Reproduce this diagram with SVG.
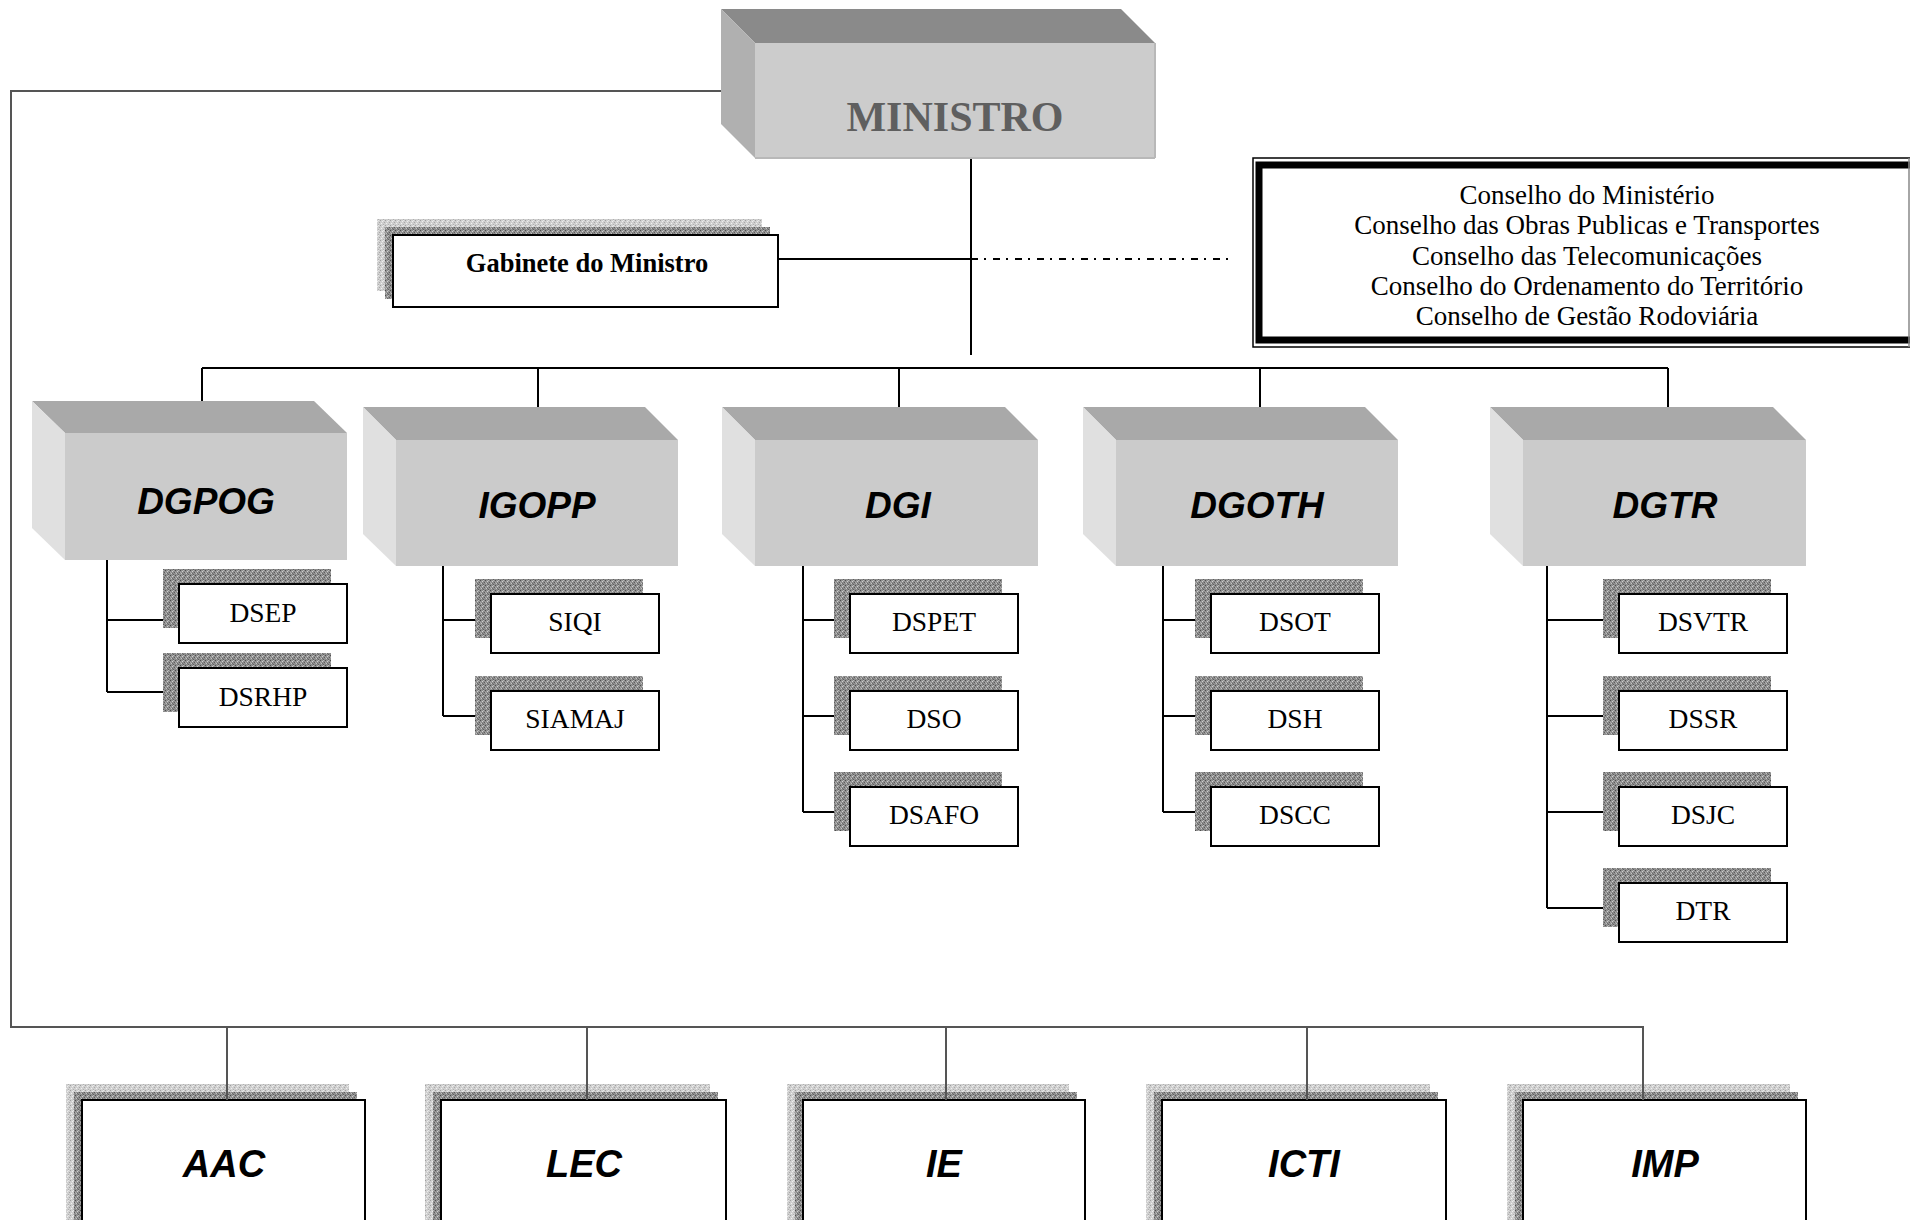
<svg xmlns="http://www.w3.org/2000/svg" width="1910" height="1220" viewBox="0 0 1910 1220">
<defs>
<pattern id="stipD" width="5" height="5" patternUnits="userSpaceOnUse">
<rect width="5" height="5" fill="#8e8e8e"/>
<rect x="0" y="0" width="1" height="1" fill="#4e4e4e"/>
<rect x="2" y="1" width="1" height="1" fill="#d0d0d0"/>
<rect x="4" y="2" width="1" height="1" fill="#5c5c5c"/>
<rect x="1" y="3" width="1" height="1" fill="#c4c4c4"/>
<rect x="3" y="4" width="1" height="1" fill="#606060"/>
<rect x="3" y="0" width="1" height="1" fill="#b8b8b8"/>
<rect x="0" y="2" width="1" height="1" fill="#a8a8a8"/>
<rect x="2" y="3" width="1" height="1" fill="#6a6a6a"/>
</pattern>
<pattern id="stipL" width="5" height="5" patternUnits="userSpaceOnUse">
<rect width="5" height="5" fill="#cfcfcf"/>
<rect x="0" y="0" width="1" height="1" fill="#a0a0a0"/>
<rect x="2" y="1" width="1" height="1" fill="#eeeeee"/>
<rect x="4" y="2" width="1" height="1" fill="#a8a8a8"/>
<rect x="1" y="3" width="1" height="1" fill="#f0f0f0"/>
<rect x="3" y="4" width="1" height="1" fill="#b0b0b0"/>
<rect x="3" y="0" width="1" height="1" fill="#e6e6e6"/>
</pattern>
<style>
.box{fill:#fff;stroke:#000;stroke-width:2}
.shD{fill:url(#stipD)}
.shL{fill:url(#stipL)}
.ln{stroke:#000;stroke-width:2;fill:none}
.lng{stroke:#555;stroke-width:2;fill:none}
.top{fill:#a9a9a9}
.side{fill:#e0e0e0}
.front{fill:#cbcbcb}
.dg{font-family:"Liberation Sans",Arial,sans-serif;font-weight:bold;font-style:italic;font-size:37px;text-anchor:middle;fill:#000}
.bt{font-family:"Liberation Sans",Arial,sans-serif;font-weight:bold;font-style:italic;font-size:38px;text-anchor:middle;fill:#000}
.sub{font-family:"Liberation Serif","Times New Roman",serif;font-size:27.5px;text-anchor:middle;fill:#000}
.cons{font-family:"Liberation Serif","Times New Roman",serif;font-size:27px;text-anchor:middle;fill:#000}
</style>
</defs>
<rect width="1910" height="1220" fill="#fff"/>

<g id="connectors">
<path class="lng" d="M732,91 H11 V1027 H1643 V1100"/>
<path class="lng" d="M227,1027 V1100 M587,1027 V1100 M946,1027 V1100 M1307,1027 V1100"/>
<path class="ln" d="M971,158 V355"/>
<path class="ln" d="M778,259 H971"/>
<path d="M971,259 H1229" stroke="#000" stroke-width="2" stroke-dasharray="7 6 2 7" fill="none"/>
<path class="ln" d="M202,368 H1668 M202,368 V428 M538,368 V430 M899,368 V440 M1260,368 V440 M1668,368 V407"/>
<path class="ln" d="M107,560 V692 M107,620 H179 M107,692 H179"/>
<path class="ln" d="M443,566 V716 M443,620 H491 M443,716 H491"/>
<path class="ln" d="M803,560 V812 M803,620 H850 M803,716 H850 M803,812 H850"/>
<path class="ln" d="M1163,566 V812 M1163,620 H1211 M1163,716 H1211 M1163,812 H1211"/>
<path class="ln" d="M1547,566 V908 M1547,620 H1619 M1547,716 H1619 M1547,812 H1619 M1547,908 H1619"/>
</g>

<g id="ministro">
<polygon points="721,9 1121,9 1155,43 755,43" fill="#8a8a8a"/>
<polygon points="721,9 755,43 755,158 721,124" fill="#b0b0b0"/>
<rect x="755" y="43" width="400" height="115" fill="#cccccc"/>
<path d="M1155,43 V158 M755,158 H1155" stroke="#b8b8b8" stroke-width="2"/>
<text x="955" y="131" font-family="'Liberation Serif','Times New Roman',serif" font-weight="bold" font-size="42" text-anchor="middle" fill="#5f5f5f">MINISTRO</text>
</g>

<g id="gabinete">
<rect class="shL" x="377" y="219" width="385" height="72"/>
<rect class="shD" x="385" y="227" width="385" height="72"/>
<rect class="box" x="393" y="235" width="385" height="72"/>
<text x="587" y="272" font-family="'Liberation Serif','Times New Roman',serif" font-weight="bold" font-size="26.5" text-anchor="middle">Gabinete do Ministro</text>
</g>

<g id="conselhos">
<rect x="1253" y="158" width="670" height="189" fill="#fff" stroke="#000" stroke-width="1.5"/>
<rect x="1259" y="165" width="670" height="175" fill="none" stroke="#000" stroke-width="7"/>
<line x1="1909" y1="158" x2="1909" y2="347" stroke="#888" stroke-width="1.5"/>
<text class="cons" x="1587" y="204">Conselho do Ministério</text>
<text class="cons" x="1587" y="234">Conselho das Obras Publicas e Transportes</text>
<text class="cons" x="1587" y="265">Conselho das Telecomunicações</text>
<text class="cons" x="1587" y="295">Conselho do Ordenamento do Território</text>
<text class="cons" x="1587" y="325">Conselho de Gestão Rodoviária</text>
</g>

<g id="dgpog">
<polygon class="top" points="32,401 314,401 347,433 65,433"/>
<polygon class="side" points="32,401 65,433 65,560 32,528"/>
<rect class="front" x="65" y="433" width="282" height="127"/>
<text class="dg" x="206" y="514">DGPOG</text>
</g>
<g id="igopp">
<polygon class="top" points="363,407 645,407 678,440 396,440"/>
<polygon class="side" points="363,407 396,440 396,566 363,534"/>
<rect class="front" x="396" y="440" width="282" height="126"/>
<text class="dg" x="537" y="518">IGOPP</text>
</g>
<g id="dgi">
<polygon class="top" points="722,407 1005,407 1038,440 755,440"/>
<polygon class="side" points="722,407 755,440 755,566 722,534"/>
<rect class="front" x="755" y="440" width="283" height="126"/>
<text class="dg" x="898" y="518">DGI</text>
</g>
<g id="dgoth">
<polygon class="top" points="1083,407 1365,407 1398,440 1116,440"/>
<polygon class="side" points="1083,407 1116,440 1116,566 1083,534"/>
<rect class="front" x="1116" y="440" width="282" height="126"/>
<text class="dg" x="1257" y="518">DGOTH</text>
</g>
<g id="dgtr">
<polygon class="top" points="1490,407 1773,407 1806,440 1523,440"/>
<polygon class="side" points="1490,407 1523,440 1523,566 1490,534"/>
<rect class="front" x="1523" y="440" width="283" height="126"/>
<text class="dg" x="1665" y="518">DGTR</text>
</g>

<g id="dsep"><rect class="shD" x="163" y="569" width="168" height="59"/><rect class="box" x="179" y="584" width="168" height="59"/><text class="sub" x="263" y="622">DSEP</text></g>
<g id="dsrhp"><rect class="shD" x="163" y="653" width="168" height="59"/><rect class="box" x="179" y="668" width="168" height="59"/><text class="sub" x="263" y="706">DSRHP</text></g>

<g id="siqi"><rect class="shD" x="475" y="579" width="168" height="59"/><rect class="box" x="491" y="594" width="168" height="59"/><text class="sub" x="575" y="631">SIQI</text></g>
<g id="siamaj"><rect class="shD" x="475" y="676" width="168" height="59"/><rect class="box" x="491" y="691" width="168" height="59"/><text class="sub" x="575" y="728">SIAMAJ</text></g>

<g id="dspet"><rect class="shD" x="834" y="579" width="168" height="59"/><rect class="box" x="850" y="594" width="168" height="59"/><text class="sub" x="934" y="631">DSPET</text></g>
<g id="dso"><rect class="shD" x="834" y="676" width="168" height="59"/><rect class="box" x="850" y="691" width="168" height="59"/><text class="sub" x="934" y="728">DSO</text></g>
<g id="dsafo"><rect class="shD" x="834" y="772" width="168" height="59"/><rect class="box" x="850" y="787" width="168" height="59"/><text class="sub" x="934" y="824">DSAFO</text></g>

<g id="dsot"><rect class="shD" x="1195" y="579" width="168" height="59"/><rect class="box" x="1211" y="594" width="168" height="59"/><text class="sub" x="1295" y="631">DSOT</text></g>
<g id="dsh"><rect class="shD" x="1195" y="676" width="168" height="59"/><rect class="box" x="1211" y="691" width="168" height="59"/><text class="sub" x="1295" y="728">DSH</text></g>
<g id="dscc"><rect class="shD" x="1195" y="772" width="168" height="59"/><rect class="box" x="1211" y="787" width="168" height="59"/><text class="sub" x="1295" y="824">DSCC</text></g>

<g id="dsvtr"><rect class="shD" x="1603" y="579" width="168" height="59"/><rect class="box" x="1619" y="594" width="168" height="59"/><text class="sub" x="1703" y="631">DSVTR</text></g>
<g id="dssr"><rect class="shD" x="1603" y="676" width="168" height="59"/><rect class="box" x="1619" y="691" width="168" height="59"/><text class="sub" x="1703" y="728">DSSR</text></g>
<g id="dsjc"><rect class="shD" x="1603" y="772" width="168" height="59"/><rect class="box" x="1619" y="787" width="168" height="59"/><text class="sub" x="1703" y="824">DSJC</text></g>
<g id="dtr"><rect class="shD" x="1603" y="868" width="168" height="59"/><rect class="box" x="1619" y="883" width="168" height="59"/><text class="sub" x="1703" y="920">DTR</text></g>

<g id="aac"><rect class="shL" x="66" y="1084" width="283" height="150"/><rect class="shD" x="74" y="1092" width="283" height="150"/><rect class="box" x="82" y="1100" width="283" height="150"/><text class="bt" x="224" y="1177">AAC</text></g>
<g id="lec"><rect class="shL" x="425" y="1084" width="285" height="150"/><rect class="shD" x="433" y="1092" width="285" height="150"/><rect class="box" x="441" y="1100" width="285" height="150"/><text class="bt" x="584" y="1177">LEC</text></g>
<g id="ie"><rect class="shL" x="787" y="1084" width="282" height="150"/><rect class="shD" x="795" y="1092" width="282" height="150"/><rect class="box" x="803" y="1100" width="282" height="150"/><text class="bt" x="944" y="1177">IE</text></g>
<g id="icti"><rect class="shL" x="1146" y="1084" width="284" height="150"/><rect class="shD" x="1154" y="1092" width="284" height="150"/><rect class="box" x="1162" y="1100" width="284" height="150"/><text class="bt" x="1304" y="1177">ICTI</text></g>
<g id="imp"><rect class="shL" x="1507" y="1084" width="283" height="150"/><rect class="shD" x="1515" y="1092" width="283" height="150"/><rect class="box" x="1523" y="1100" width="283" height="150"/><text class="bt" x="1665" y="1177">IMP</text></g>

<path class="lng" d="M227,1084 V1100 M587,1084 V1100 M946,1084 V1100 M1307,1084 V1100 M1643,1084 V1100"/>
</svg>
